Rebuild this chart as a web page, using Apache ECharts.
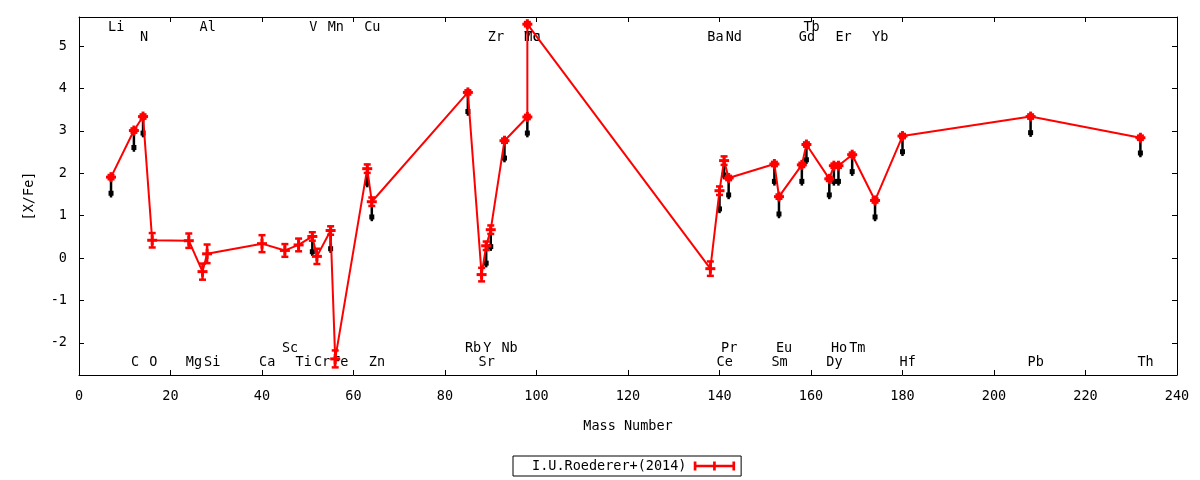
<!DOCTYPE html>
<html>
<head>
<meta charset="utf-8">
<script src="https://cdn.jsdelivr.net/npm/echarts@6.0.0/dist/echarts.min.js"></script>
<style>
  html, body { margin: 0; padding: 0; background: #fff; }
  #chart { width: 1200px; height: 480px; }
</style>
</head>
<body>
<div id="chart"></div>
<script>
// element, mass number, [X/Fe] with error (red), second set (black)
var elements   = ['Li','C','N','O','Mg','Al','Si','Ca','Sc','Ti','V','Cr','Mn','Fe','Cu','Zn','Rb','Sr','Y','Zr','Nb','Mo','Tc','Ba','Ce','Pr','Nd','Sm','Eu','Gd','Tb','Dy','Ho','Er','Tm','Yb','Hf','Pb','Th'];
var massNumber = [7,12,14,16,24,27,28,40,45,48,51,52,55,56,63,64,85,88,89,90,93,98,98,138,140,141,142,152,153,158,159,164,165,166,169,174,180,208,232];
var xFe        = [1.91,3.01,3.34,0.42,0.41,-0.32,0.10,0.34,0.18,0.31,0.51,0.04,0.65,-2.38,2.11,1.33,3.91,-0.39,0.29,0.67,2.77,3.33,5.52,-0.25,1.59,2.30,1.89,2.22,1.45,2.20,2.68,1.87,2.18,2.18,2.44,1.36,2.88,3.34,2.84];
var xFeErr     = [0.05,0.05,0.05,0.17,0.17,0.19,0.22,0.20,0.15,0.15,0.10,0.18,0.10,0.20,0.10,0.10,0.05,0.16,0.10,0.10,0.05,0.05,0.05,0.17,0.10,0.10,0.05,0.05,0.05,0.05,0.05,0.05,0.05,0.05,0.05,0.05,0.05,0.05,0.05];
var blackVals  = [1.53,2.61,2.95,null,null,null,null,null,null,null,0.15,null,0.22,null,1.77,0.97,3.46,null,-0.12,0.27,2.36,2.95,null,null,1.16,1.96,1.49,1.81,1.04,1.81,2.32,1.49,1.81,1.81,2.04,0.97,2.51,2.96,2.48];
// element name rows: 0,1 top / 2,3 bottom
var labelRowY  = [5.44, 5.21, -2.14, -2.47];
var labelRow   = [0,3,1,3,3,0,3,3,2,3,0,3,0,3,0,3,2,3,2,1,2,1,1,1,3,2,1,3,2,1,0,3,2,1,2,1,3,3,3];
var xTicks = { min: 0, max: 240, step: 20 };
var yRange = { min: -2.76, max: 5.69 };
var seriesName = 'I.U.Roederer+(2014)';

var RED = '#ff0000';
var FONT = '"DejaVu Sans Mono", monospace';
var FS = 13.5;

var lineData = [], errData = [], blackData = [], labelData = [];
for (var i = 0; i < elements.length; i++) {
  lineData.push([massNumber[i], xFe[i]]);
  errData.push([massNumber[i], xFe[i] - xFeErr[i], xFe[i] + xFeErr[i], xFe[i]]);
  if (blackVals[i] !== null) blackData.push([massNumber[i], xFe[i], blackVals[i]]);
  labelData.push([massNumber[i], labelRowY[labelRow[i]]]);
}

// error bar with caps and a thick "+" at the point
function renderErrorBar(params, api) {
  var x = api.value(0);
  var lo = api.coord([x, api.value(1)]);
  var hi = api.coord([x, api.value(2)]);
  var c = api.coord([x, api.value(3)]);
  var cap = 3.5;
  var st = { stroke: RED, lineWidth: 2.5 };
  return { type: 'group', children: [
    { type: 'line', shape: { x1: lo[0], y1: lo[1], x2: hi[0], y2: hi[1] }, style: st },
    { type: 'line', shape: { x1: lo[0] - cap, y1: lo[1], x2: lo[0] + cap, y2: lo[1] }, style: st },
    { type: 'line', shape: { x1: hi[0] - cap, y1: hi[1], x2: hi[0] + cap, y2: hi[1] }, style: st },
    { type: 'rect', shape: { x: c[0] - 5, y: c[1] - 1.5, width: 10, height: 3 }, style: { fill: RED } },
    { type: 'rect', shape: { x: c[0] - 1.5, y: c[1] - 5, width: 3, height: 10 }, style: { fill: RED } }
  ]};
}

function renderBlack(params, api) {
  var x = api.value(0);
  var top = api.coord([x, api.value(1)]);
  var pt = api.coord([x, api.value(2)]);
  var bot = api.coord([x, api.value(2) - 0.1]);
  return { type: 'group', children: [
    { type: 'line', shape: { x1: top[0], y1: top[1], x2: bot[0], y2: bot[1] }, style: { stroke: '#000', lineWidth: 2.5 } },
    { type: 'rect', shape: { x: pt[0] - 2.5, y: pt[1] - 2.5, width: 5, height: 5 }, style: { fill: '#000' } }
  ]};
}

function renderLabel(params, api) {
  var p = api.coord([api.value(0), api.value(1)]);
  return {
    type: 'text', x: p[0] - 3, y: p[1],
    style: { text: elements[params.dataIndex], fill: '#000', fontSize: FS, fontFamily: FONT,
             align: 'left', verticalAlign: 'middle', textAlign: 'left', textVerticalAlign: 'middle' }
  };
}

var chart = echarts.init(document.getElementById('chart'));
var axisCommonX = {
  type: 'value', min: xTicks.min, max: xTicks.max, interval: xTicks.step,
  axisLine: { show: true, onZero: false, lineStyle: { color: '#000', width: 1 } },
  axisTick: { show: true, inside: true, length: 5, lineStyle: { color: '#000' } },
  splitLine: { show: false }
};
var axisCommonY = {
  type: 'value', min: yRange.min, max: yRange.max, splitNumber: 8,
  axisLine: { show: true, onZero: false, lineStyle: { color: '#000', width: 1 } },
  axisTick: { show: true, inside: true, length: 5, lineStyle: { color: '#000' } },
  splitLine: { show: false }
};

chart.setOption({
  animation: false,
  textStyle: { fontFamily: FONT },
  grid: { left: 79, right: 23, top: 17, bottom: 105, containLabel: false, outerBoundsMode: 'none' },
  legend: {
    data: [{ name: seriesName, icon: 'path://M0,0h3v3.5h18.5v-3.5h3v3.5h18.5v-3.5h3v10h-3v-3.5h-18.5v3.5h-3v-3.5h-18.5v3.5h-3z' }],
    left: 513, top: 456, align: 'right', selectedMode: false,
    padding: [3, 6, 3, 19], borderColor: '#000', borderWidth: 1, borderRadius: 0,
    itemWidth: 44, itemHeight: 9,
    itemStyle: { color: RED, borderWidth: 0 },
    textStyle: { fontSize: FS, fontFamily: FONT, color: '#000', padding: [0, 1, 0, 0] }
  },
  xAxis: [
    Object.assign({}, axisCommonX, {
      position: 'bottom', name: 'Mass Number', nameLocation: 'middle', nameGap: 44,
      nameTextStyle: { fontSize: FS, fontFamily: FONT, color: '#000' },
      axisLabel: { fontSize: FS, fontFamily: FONT, color: '#000', margin: 14 }
    }),
    Object.assign({}, axisCommonX, { position: 'top', axisLabel: { show: false } })
  ],
  yAxis: [
    Object.assign({}, axisCommonY, {
      position: 'left', name: '[X/Fe]', nameLocation: 'middle', nameGap: 43, nameRotate: 90,
      nameTextStyle: { fontSize: FS, fontFamily: FONT, color: '#000' },
      axisLabel: { fontSize: FS, fontFamily: FONT, color: '#000', margin: 12, showMinLabel: false, showMaxLabel: false }
    }),
    Object.assign({}, axisCommonY, { position: 'right', axisLabel: { show: false } })
  ],
  series: [
    { type: 'custom', name: 'labels', renderItem: renderLabel, data: labelData, encode: { x: 0, y: 1 }, z: 1, silent: true },
    { type: 'custom', name: 'black', renderItem: renderBlack, data: blackData, encode: { x: 0, y: [1, 2] }, z: 2, silent: true },
    {
      type: 'line', name: seriesName, data: lineData, z: 3, symbol: 'none',
      lineStyle: { color: RED, width: 2 }, itemStyle: { color: RED },
      emphasis: { disabled: true }
    },
    { type: 'custom', name: 'err', renderItem: renderErrorBar, data: errData, encode: { x: 0, y: [1, 2] }, z: 4, silent: true }
  ]
});
</script>
</body>
</html>
